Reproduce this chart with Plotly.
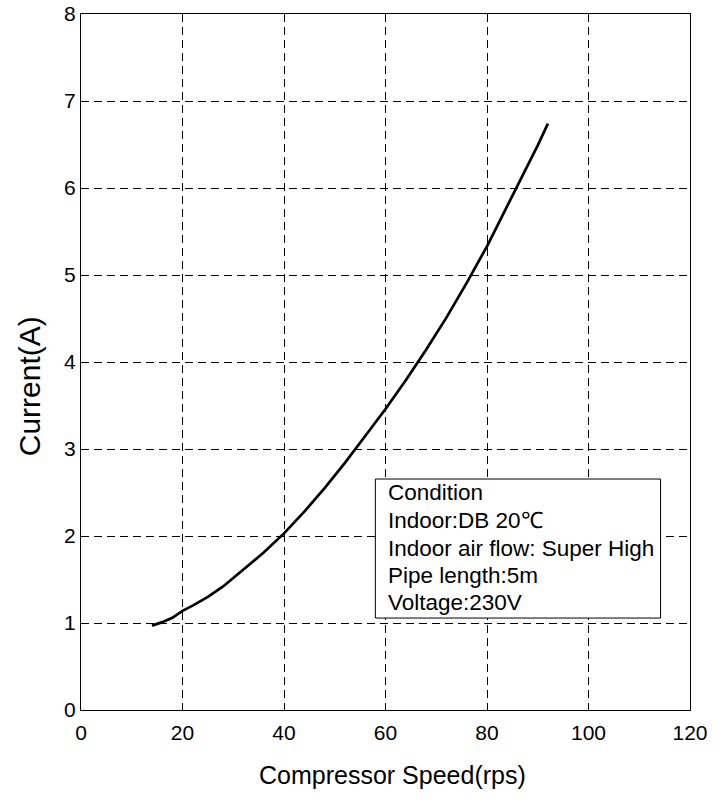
import plotly.graph_objects as go

speed_rps = [14, 16, 18, 20, 22, 25, 28, 30, 33, 36, 40, 44, 48, 52, 56, 60,
             64, 68, 72, 76, 80, 84, 88, 90, 92]
current_a = [0.97, 1.01, 1.06, 1.14, 1.20, 1.30, 1.42, 1.52, 1.66, 1.81, 2.03,
             2.28, 2.55, 2.84, 3.15, 3.46, 3.79, 4.14, 4.51, 4.91, 5.33, 5.79,
             6.25, 6.49, 6.74]

x_ticks = [0, 20, 40, 60, 80, 100, 120]
y_ticks = [0, 1, 2, 3, 4, 5, 6, 7, 8]
condition_lines = ["Condition", "Indoor:DB 20℃", "Indoor air flow: Super High",
                   "Pipe length:5m", "Voltage:230V"]
x_title = "Compressor Speed(rps)"
y_title = "Current(A)"

FONT = "Liberation Sans, Arial, sans-serif"

fig = go.Figure()
fig.add_trace(go.Scatter(x=speed_rps, y=current_a, mode="lines",
                         line=dict(color="black", width=2.7), showlegend=False,
                         hoverinfo="skip"))

fig.add_shape(type="rect", xref="x", yref="y", x0=58.0, x1=114.2, y0=1.057, y1=2.655,
              fillcolor="white", line=dict(color="black", width=1), layer="above")

# text rows inside the condition box
line_y = [2.50, 2.18, 1.86, 1.55, 1.24]
for txt, yy in zip(condition_lines, line_y):
    fig.add_annotation(x=60.0, y=yy, xref="x", yref="y", xanchor="left", yanchor="middle",
                       align="left", showarrow=False, text=txt,
                       font=dict(family=FONT, size=22.5, color="black"))

# axis titles
fig.add_annotation(x=0.512, y=-0.0934, xref="paper", yref="paper", xanchor="center",
                   yanchor="middle", showarrow=False, text=x_title,
                   font=dict(family=FONT, size=25, color="black"))
fig.add_annotation(x=-0.0845, y=0.4645, xref="paper", yref="paper", xanchor="center",
                   yanchor="middle", showarrow=False, text=y_title, textangle=-90,
                   font=dict(family=FONT, size=30, color="black"))

axis_common = dict(showline=True, linecolor="black", linewidth=1, mirror=True,
                   showgrid=True, gridcolor="black", gridwidth=1, griddash="8px,5px",
                   zeroline=False, ticks="inside", ticklen=5, tickcolor="black",
                   tickfont=dict(family=FONT, size=21, color="black"))

fig.update_xaxes(range=[0, 120], tickvals=x_ticks, **axis_common, ticklabelstandoff=4)
fig.update_yaxes(range=[0, 8], tickvals=y_ticks, **axis_common)

fig.update_layout(width=721, height=805, plot_bgcolor="white", paper_bgcolor="white",
                  margin=dict(l=80.5, r=31, t=14, b=95, autoexpand=False))

fig.write_html("out.html", config={"displayModeBar": False},
               post_script="document.body.style.margin='0';document.body.style.overflow='hidden';")
